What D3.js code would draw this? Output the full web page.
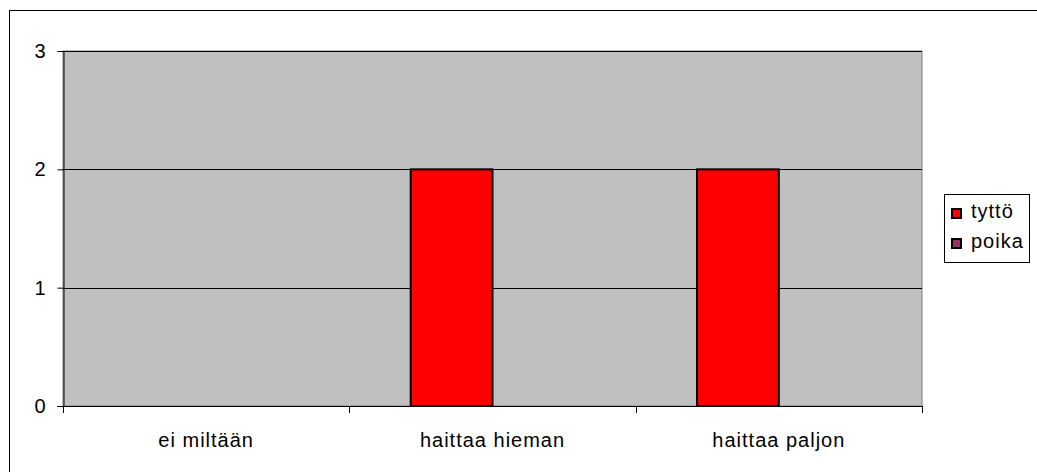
<!DOCTYPE html>
<html>
<head>
<meta charset="utf-8">
<script src="https://cdn.jsdelivr.net/npm/d3@7"></script>
<style>
body { margin: 0; background: #fff; }
text { font-family: "Liberation Sans", Arial, sans-serif; fill: #000; font-size: 20px; letter-spacing: 1px; }
</style>
</head>
<body>
<svg id="chart" width="1037" height="472"></svg>
<script>
var categories = ['ei miltään', 'haittaa hieman', 'haittaa paljon'];
var seriesNames = ['tyttö', 'poika'];
var seriesColors = ['#FF0000', '#993366'];
var tytto = [0, 2, 2];
var poika = [0, 0, 0];
var yTicks = [0, 1, 2, 3];

var svg = d3.select('#chart'),
	plotLeft = 63, plotTop = 51, plotRight = 922, plotBottom = 406,
	series = [tytto, poika];

// outer frame (only top/left are visible in the picture)
svg.append('rect')
	.attr('x', 9.5).attr('y', 10.5)
	.attr('width', 1040).attr('height', 480)
	.style('fill', 'none').style('stroke', '#000');

var x = d3.scaleBand().domain(categories).range([plotLeft, plotRight]),
	y = d3.scaleLinear().domain([0, 3]).range([plotBottom, plotTop]);

// plot area
svg.append('rect')
	.attr('x', plotLeft).attr('y', plotTop)
	.attr('width', plotRight - plotLeft).attr('height', plotBottom - plotTop)
	.style('fill', '#C0C0C0').style('stroke', '#808080');

// gridlines
svg.append('g').selectAll('line').data(yTicks.slice(1)).enter().append('line')
	.attr('x1', plotLeft).attr('x2', plotRight)
	.attr('y1', function (d) { return Math.round(y(d)) + 0.5; })
	.attr('y2', function (d) { return Math.round(y(d)) + 0.5; })
	.style('stroke', '#000').style('stroke-width', 1);

// bars, excel style: gap width 150%
var barW = x.bandwidth() / (series.length + 1.5);
series.forEach(function (vals, idx) {
	var data = vals.map(function (v, i) { return {name: categories[i], value: v}; })
		.filter(function (d) { return d.value > 0; });
	svg.append('g').selectAll('rect').data(data).enter().append('rect')
		.attr('x', function (d) { return x(d.name) + x.bandwidth() / 2 - barW + idx * barW; })
		.attr('y', function (d) { return y(d.value); })
		.attr('width', barW)
		.attr('height', function (d) { return y(0) - y(d.value); })
		.style('fill', seriesColors[idx])
		.style('stroke', '#000').style('stroke-width', 2);
});

// y axis
var yAxis = svg.append('g')
	.attr('transform', 'translate(' + (plotLeft + 0.5) + ',0)')
	.call(d3.axisLeft(y).tickValues(yTicks).tickFormat(d3.format('d')).tickSize(6).tickPadding(11));
yAxis.selectAll('text').style('font-size', null);
yAxis.selectAll('path, line').style('stroke', '#000');

// x axis
var xAxis = svg.append('g')
	.attr('transform', 'translate(0,' + (plotBottom + 0.5) + ')')
	.call(d3.axisBottom(x).tickSize(0).tickPadding(22));
xAxis.select('.domain').remove();
xAxis.selectAll('text').attr('dy', null).attr('y', 40);
svg.append('line')
	.attr('x1', plotLeft).attr('x2', plotRight)
	.attr('y1', plotBottom + 0.5).attr('y2', plotBottom + 0.5)
	.style('stroke', '#000');
svg.append('g').selectAll('line').data(d3.range(categories.length + 1)).enter().append('line')
	.attr('x1', function (i) { return Math.round(plotLeft + i * x.bandwidth()) + 0.5; })
	.attr('x2', function (i) { return Math.round(plotLeft + i * x.bandwidth()) + 0.5; })
	.attr('y1', plotBottom).attr('y2', plotBottom + 7)
	.style('stroke', '#000');
svg.selectAll('g.tick text').style('font-size', '20px');

// legend
var legend = svg.append('g');
legend.append('rect')
	.attr('x', 944.5).attr('y', 194.5).attr('width', 85).attr('height', 68)
	.style('fill', '#fff').style('stroke', '#000');
seriesNames.forEach(function (name, i) {
	legend.append('rect')
		.attr('x', 952).attr('y', 209 + i * 30).attr('width', 9).attr('height', 9)
		.style('fill', seriesColors[i]).style('stroke', '#000').style('stroke-width', 2);
	legend.append('text')
		.attr('x', 971).attr('y', 218 + i * 30)
		.text(name);
});
</script>
</body>
</html>
